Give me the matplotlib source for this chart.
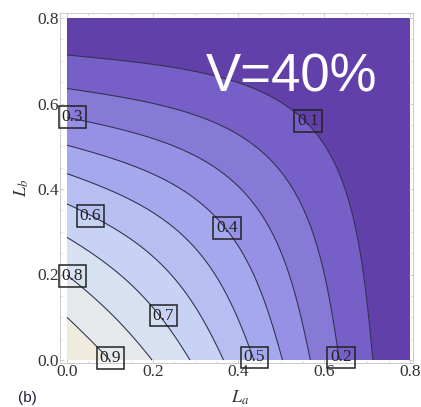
import numpy as np
import matplotlib
matplotlib.use("Agg")
import matplotlib.pyplot as plt
from matplotlib.ticker import MultipleLocator

plt.rcParams['mathtext.fontset'] = 'stix'

# Field value along each edge (the map is separable: f(a,b) = g(a) * g(b))
edge_pos = [0.0, 0.100, 0.198, 0.287, 0.366, 0.434, 0.503, 0.570, 0.632, 0.715, 0.80]
edge_val = [1.0, 0.9, 0.8, 0.7, 0.6, 0.5, 0.4, 0.3, 0.2, 0.1, 0.03]

levels = [0.1, 0.2, 0.3, 0.4, 0.5, 0.6, 0.7, 0.8, 0.9]
band_colors = ['#6240aa', '#765fc6', '#877ad7', '#9691e4', '#a5a8ec',
               '#b6bef2', '#c8d2f4', '#d8e1f1', '#e5e9ec', '#efebdf']

# contour label placements (level, La, Lb)
label_levels = [0.9, 0.8, 0.7, 0.6, 0.5, 0.4, 0.3, 0.2, 0.1]
label_x = [0.101, 0.012, 0.224, 0.055, 0.437, 0.373, 0.012, 0.639, 0.562]
label_y = [0.005, 0.196, 0.104, 0.337, 0.006, 0.309, 0.568, 0.006, 0.559]

xticks = [0.0, 0.2, 0.4, 0.6, 0.8]
yticks = [0.0, 0.2, 0.4, 0.6, 0.8]

fig = plt.figure(figsize=(4.21, 4.07), dpi=100)
ax = fig.add_axes([60/421, 44/407, 353/421, 350/407])

# smooth edge profile through the read samples
grid = np.linspace(0.0, 0.8, 500)
coef = np.polyfit(edge_pos, edge_val, 5)
g = np.clip(np.polyval(coef, grid), 0.0, 1.0)
Z = np.outer(g, g)
A, B = np.meshgrid(grid, grid)

fill_levels = [-0.01] + levels + [1.0001]
ax.contourf(A, B, Z, levels=fill_levels, colors=band_colors, antialiased=True)
ax.contour(A, B, Z, levels=levels, colors='#2c2c4e', linewidths=0.75)

for lev, lx, ly in zip(label_levels, label_x, label_y):
    ax.text(lx, ly, f"{lev:.1f}", ha='center', va='center', fontsize=12.5,
            family='Liberation Serif', color='#222222', clip_on=False,
            bbox=dict(boxstyle='square,pad=0.16', fc='none', ec='#222222', lw=1.1))

ax.set_xlim(-7/429, 0.8 + 3/429)
ax.set_ylim(-3/427.5, 0.8 + 5/427.5)
ax.set_xticks(xticks)
ax.set_yticks(yticks)
ax.xaxis.set_minor_locator(MultipleLocator(0.05))
ax.yaxis.set_minor_locator(MultipleLocator(0.05))
ax.set_xticklabels([f"{t:.1f}" for t in xticks], family='Liberation Serif', fontsize=12.5, color='#333333')
ax.set_yticklabels([f"{t:.1f}" for t in yticks], family='Liberation Serif', fontsize=12.5, color='#333333')
ax.tick_params(which='both', direction='in', top=True, right=True, color='#c8c8c8', pad=1)
ax.tick_params(which='major', length=3, width=0.6)
ax.tick_params(which='minor', length=1.5, width=0.5)
for s in ax.spines.values():
    s.set_color('#cccccc')
    s.set_linewidth(0.8)

fig.text(240/421, 1 - 398/407, r'$L_a$', ha='center', va='center', fontsize=13, color='#333333')
fig.text(22/421, 1 - 188/407, r'$L_b$', ha='center', va='center', fontsize=13, color='#333333', rotation=90)
fig.text(18/421, 1 - 398/407, '(b)', ha='left', va='center', fontsize=11, family='Liberation Sans', color='#1e2040')
fig.text(292/421, 1 - 92/407, 'V=40%', ha='center', va='baseline', fontsize=38, family='Liberation Sans', color='white')

fig.savefig('out.png', dpi=100)
